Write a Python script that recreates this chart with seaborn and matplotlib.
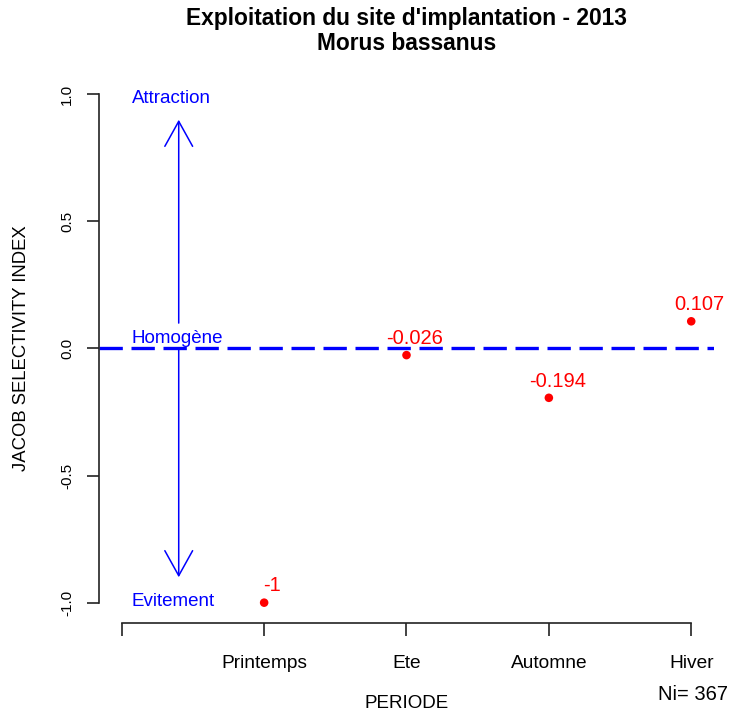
import matplotlib
matplotlib.use("Agg")
import matplotlib.pyplot as plt
import seaborn as sns
import pandas as pd

periods = ["Printemps", "Ete", "Automne", "Hiver"]
positions = [1, 2, 3, 4]
jacob = [-1.0, -0.026, -0.194, 0.107]
point_labels = ["-1", "-0.026", "-0.194", "0.107"]
x_ticks = [0, 1, 2, 3, 4]
x_ticklabels = [""] + periods
y_ticks = [-1.0, -0.5, 0.0, 0.5, 1.0]
y_ticklabels = ["-1.0", "-0.5", "0.0", "0.5", "1.0"]
title = "Exploitation du site d'implantation - 2013\nMorus bassanus"
n_individuals = 367

sns.set_style("white")
plt.rcParams["font.family"] = ["Liberation Sans", "DejaVu Sans"]

df = pd.DataFrame({"pos": positions, "J": jacob, "lab": point_labels})

fig = plt.figure(figsize=(7.32, 7.13), dpi=100)
ax = fig.add_axes([99 / 732, 1 - 623 / 713, 615 / 732, 549 / 713])

# reference line
ax.axhline(0, color="blue", lw=2.4, dashes=(7.0, 2.6), zorder=1)

# points
sns.scatterplot(data=df, x="pos", y="J", ax=ax, color="red", s=38,
                edgecolor="none", zorder=3, legend=False)
for _, r in df.iterrows():
    ax.annotate(r["lab"], (r["pos"], r["J"]), xytext=(6, 12),
                textcoords="offset points", ha="center", va="center",
                color="red", fontsize=14.5)

# arrows
arrow_x = 0.4
ap = dict(arrowstyle="->,head_length=1.8,head_width=1.0", color="blue",
          lw=1.1, shrinkA=0, shrinkB=0)
ax.annotate("", xy=(arrow_x, 0.9), xytext=(arrow_x, 0.1), arrowprops=ap)
ax.annotate("", xy=(arrow_x, -0.9), xytext=(arrow_x, 0.0), arrowprops=ap)

txt_x = 0.07
ax.text(txt_x, 0.985, "Attraction", color="blue", fontsize=13.5,
        ha="left", va="center")
ax.text(txt_x, 0.04, "Homogène", color="blue", fontsize=13.5,
        ha="left", va="center")
ax.text(txt_x, -0.995, "Evitement", color="blue", fontsize=13.5,
        ha="left", va="center")

ax.set_xlim(-0.16, 4.16)
ax.set_ylim(-1.08, 1.08)
ax.set_xticks(x_ticks)
ax.set_xticklabels(x_ticklabels, fontsize=13.8, color="black")
ax.set_yticks(y_ticks)
ax.set_yticklabels(y_ticklabels, fontsize=11, rotation=90, va="center",
                   color="black")
ax.tick_params(axis="x", length=9, width=1.2, pad=14, color="#222222",
               direction="out", bottom=True)
ax.tick_params(axis="y", length=9, width=1.2, pad=9, color="#222222",
               direction="out", left=True)
for s in ["top", "right"]:
    ax.spines[s].set_visible(False)
ax.spines["left"].set_bounds(-1, 1)
ax.spines["bottom"].set_bounds(0, 4)
ax.spines["left"].set_linewidth(1.2)
ax.spines["bottom"].set_linewidth(1.2)
ax.spines["left"].set_color("#222222")
ax.spines["bottom"].set_color("#222222")

ax.set_xlabel("")
ax.set_ylabel("")
fig.text(407 / 732, 1 - 703 / 713, "PERIODE", ha="center", va="center",
         fontsize=13.5, color="black")
fig.text(22 / 732, 1 - 348 / 713, "JACOB SELECTIVITY INDEX", ha="center",
         va="center", rotation=90, fontsize=13.3, color="black")
fig.text(693 / 732, 1 - 695 / 713, f"Ni= {n_individuals}", ha="center",
         va="center", fontsize=14.5, color="black")
fig.text(407 / 732, 1 - 31 / 713, title, ha="center", va="center",
         fontsize=16.4, fontweight="bold", linespacing=1.1, color="black")

fig.savefig("out.png", dpi=100)
